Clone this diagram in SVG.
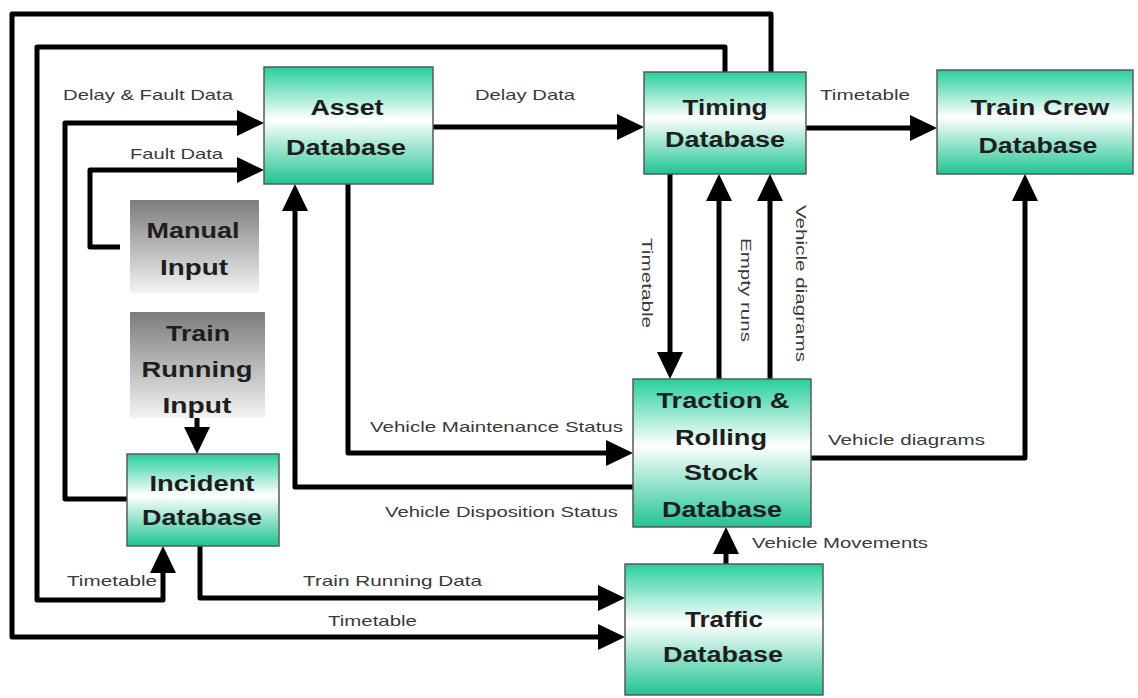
<svg xmlns="http://www.w3.org/2000/svg" width="1138" height="698" viewBox="0 0 1138 698">
<style>
.node{stroke:#5a5a5a;stroke-width:1.5}
.nt{font-family:"Liberation Sans",Arial,sans-serif;font-weight:bold;font-size:22px;fill:#1e1e1e;text-anchor:middle}
.lb{font-family:"Liberation Sans",Arial,sans-serif;font-size:15px;fill:#3a3a3a}
.cn{fill:none;stroke:#000;stroke-width:5;stroke-linejoin:round}
</style>
<defs>
<linearGradient id="green" x1="0" y1="0" x2="0" y2="1">
<stop offset="0" stop-color="#27cf9d"/>
<stop offset="0.45" stop-color="#ffffff"/>
<stop offset="1" stop-color="#20c493"/>
</linearGradient>
<linearGradient id="gray" x1="0" y1="0" x2="0" y2="1">
<stop offset="0" stop-color="#7c7c7c"/>
<stop offset="1" stop-color="#f3f3f3"/>
</linearGradient>
<marker id="ah" markerUnits="userSpaceOnUse" viewBox="0 0 27 26" markerWidth="27" markerHeight="26" refX="1" refY="13" orient="auto">
<path d="M0,0 L27,13 L0,26 z" fill="#000"/>
</marker>
</defs>
<rect width="1138" height="698" fill="#fff"/>
<g id="connectors">
<path class="cn" d="M771,72 V14 H12 V637 H599" marker-end="url(#ah)"/>
<path class="cn" d="M725,72 V47 H37 V600 H163 V572" marker-end="url(#ah)"/>
<path class="cn" d="M127,499 H65 V123 H238" marker-end="url(#ah)"/>
<path class="cn" d="M120,247 H90 V170 H238" marker-end="url(#ah)"/>
<path class="cn" d="M433,127 H618" marker-end="url(#ah)"/>
<path class="cn" d="M806,128 H911" marker-end="url(#ah)"/>
<path class="cn" d="M670,174 V353" marker-end="url(#ah)"/>
<path class="cn" d="M719,379 V200" marker-end="url(#ah)"/>
<path class="cn" d="M770,379 V200" marker-end="url(#ah)"/>
<path class="cn" d="M348,184 V453 H607" marker-end="url(#ah)"/>
<path class="cn" d="M633,487 H295 V210" marker-end="url(#ah)"/>
<path class="cn" d="M811,458 H1025 V200" marker-end="url(#ah)"/>
<path class="cn" d="M726,564 V553" marker-end="url(#ah)"/>
<path class="cn" d="M197,410 V428" marker-end="url(#ah)"/>
<path class="cn" d="M200,546 V598 H599" marker-end="url(#ah)"/>
<text class="lb" x="63" y="100" textLength="170" lengthAdjust="spacingAndGlyphs">Delay &amp; Fault Data</text>
<text class="lb" x="130" y="159" textLength="93" lengthAdjust="spacingAndGlyphs">Fault Data</text>
<text class="lb" x="475" y="100" textLength="100" lengthAdjust="spacingAndGlyphs">Delay Data</text>
<text class="lb" x="820" y="100" textLength="90" lengthAdjust="spacingAndGlyphs">Timetable</text>
<text class="lb" x="370" y="432" textLength="253" lengthAdjust="spacingAndGlyphs">Vehicle Maintenance Status</text>
<text class="lb" x="385" y="517" textLength="233" lengthAdjust="spacingAndGlyphs">Vehicle Disposition Status</text>
<text class="lb" x="828" y="445" textLength="157" lengthAdjust="spacingAndGlyphs">Vehicle diagrams</text>
<text class="lb" x="752" y="548" textLength="176" lengthAdjust="spacingAndGlyphs">Vehicle Movements</text>
<text class="lb" x="67" y="586" textLength="90" lengthAdjust="spacingAndGlyphs">Timetable</text>
<text class="lb" x="303" y="586" textLength="179" lengthAdjust="spacingAndGlyphs">Train Running Data</text>
<text class="lb" x="328" y="626" textLength="89" lengthAdjust="spacingAndGlyphs">Timetable</text>
<text class="lb" transform="translate(642,238) rotate(90)" textLength="90" lengthAdjust="spacingAndGlyphs">Timetable</text>
<text class="lb" transform="translate(741,238) rotate(90)" textLength="104" lengthAdjust="spacingAndGlyphs">Empty runs</text>
<text class="lb" transform="translate(796,205) rotate(90)" textLength="157" lengthAdjust="spacingAndGlyphs">Vehicle diagrams</text>
</g>
<g id="asset">
<rect class="node" x="264" y="67" width="169" height="117" fill="url(#green)"/>
<text class="nt" x="347" y="115" textLength="73" lengthAdjust="spacingAndGlyphs">Asset</text>
<text class="nt" x="346" y="155" textLength="120" lengthAdjust="spacingAndGlyphs">Database</text>
</g>
<g id="timing">
<rect class="node" x="644" y="72" width="162" height="102" fill="url(#green)"/>
<text class="nt" x="725" y="115" textLength="85" lengthAdjust="spacingAndGlyphs">Timing</text>
<text class="nt" x="725" y="147" textLength="120" lengthAdjust="spacingAndGlyphs">Database</text>
</g>
<g id="traincrew">
<rect class="node" x="937" y="70" width="196" height="104" fill="url(#green)"/>
<text class="nt" x="1040" y="115" textLength="139" lengthAdjust="spacingAndGlyphs">Train Crew</text>
<text class="nt" x="1038" y="153" textLength="119" lengthAdjust="spacingAndGlyphs">Database</text>
</g>
<g id="manual">
<rect x="130" y="200" width="129" height="93" fill="url(#gray)"/>
<text class="nt" x="193" y="238" textLength="93" lengthAdjust="spacingAndGlyphs">Manual</text>
<text class="nt" x="194" y="275" textLength="68" lengthAdjust="spacingAndGlyphs">Input</text>
</g>
<g id="trainrunning">
<rect x="130" y="312" width="135" height="106" fill="url(#gray)"/>
<text class="nt" x="198" y="341" textLength="64" lengthAdjust="spacingAndGlyphs">Train</text>
<text class="nt" x="197" y="377" textLength="111" lengthAdjust="spacingAndGlyphs">Running</text>
<text class="nt" x="197" y="413" textLength="69" lengthAdjust="spacingAndGlyphs">Input</text>
</g>
<g id="incident">
<rect class="node" x="127" y="454" width="152" height="92" fill="url(#green)"/>
<text class="nt" x="202" y="491" textLength="105" lengthAdjust="spacingAndGlyphs">Incident</text>
<text class="nt" x="202" y="525" textLength="120" lengthAdjust="spacingAndGlyphs">Database</text>
</g>
<g id="traction">
<rect class="node" x="633" y="379" width="178" height="148" fill="url(#green)"/>
<text class="nt" x="723" y="408" textLength="133" lengthAdjust="spacingAndGlyphs">Traction &amp;</text>
<text class="nt" x="721" y="445" textLength="92" lengthAdjust="spacingAndGlyphs">Rolling</text>
<text class="nt" x="721" y="480" textLength="74" lengthAdjust="spacingAndGlyphs">Stock</text>
<text class="nt" x="722" y="517" textLength="120" lengthAdjust="spacingAndGlyphs">Database</text>
</g>
<g id="traffic">
<rect class="node" x="625" y="564" width="198" height="131" fill="url(#green)"/>
<text class="nt" x="724" y="627" textLength="78" lengthAdjust="spacingAndGlyphs">Traffic</text>
<text class="nt" x="723" y="662" textLength="120" lengthAdjust="spacingAndGlyphs">Database</text>
</g>
</svg>
